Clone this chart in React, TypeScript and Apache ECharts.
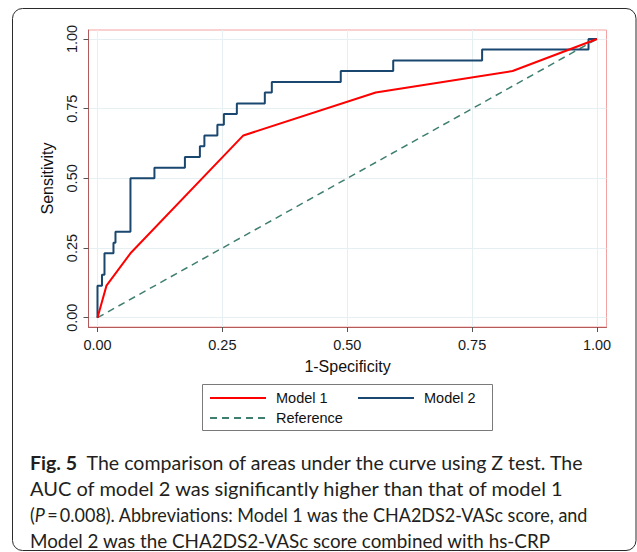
import React, { useEffect, useRef } from "react";
import * as echarts from "echarts";

const xTicks = [0, 0.25, 0.5, 0.75, 1];
const yTicks = [0, 0.25, 0.5, 0.75, 1];

const model1Fpr = [0, 0.018, 0.066, 0.292, 0.557, 0.831, 1];
const model1Tpr = [0, 0.115, 0.231, 0.654, 0.808, 0.885, 1];

const model2Fpr = [0, 0, 0.009, 0.014, 0.032, 0.036, 0.066, 0.114, 0.175, 0.205, 0.214, 0.24, 0.253, 0.279, 0.335, 0.349, 0.487, 0.592, 0.77, 0.983, 1];
const model2Tpr = [0, 0.115, 0.154, 0.231, 0.269, 0.308, 0.5, 0.538, 0.577, 0.615, 0.654, 0.692, 0.731, 0.769, 0.808, 0.846, 0.885, 0.923, 0.962, 1, 1];

const refFpr = [0, 1];
const refTpr = [0, 1];

const seriesNames = ["Model 1", "Model 2", "Reference"];
const xTitle = "1-Specificity";
const yTitle = "Sensitivity";

const captionLines = [
  "{b|Fig. 5}  The comparison of areas under the curve using Z test. The",
  "AUC of model 2 was significantly higher than that of model 1",
  "({i|P}\u2009=\u20090.008). Abbreviations: Model 1 was the CHA2DS2-VASc score, and",
  "Model 2 was the CHA2DS2-VASc score combined with hs-CRP",
];
const captionScale = [1.03, 1.055, 0.947, 0.992];

const zip = (a: number[], b: number[]) => a.map((v, i) => [v, b[i]]);

export default function App() {
  const ref = useRef<HTMLDivElement>(null);
  useEffect(() => {
    document.body.style.margin = "0";
    const chart = echarts.init(ref.current!, null, { renderer: "svg" });
    const axisFont = { fontFamily: "Liberation Sans", fontSize: 14.5, color: "#1a1a1a" };
    const legendCommon = {
      padding: 0,
      itemWidth: 56,
      itemHeight: 14,
      selectedMode: false,
      itemStyle: { opacity: 0 },
      textStyle: { fontFamily: "Liberation Sans", fontSize: 14.5, color: "#111", padding: [0, 0, 0, 5] },
    };
    const capFont = "Lato";
    const capSize = 19;
    chart.setOption({
      animation: false,
      backgroundColor: "#ffffff",
      grid: {
        left: 88.5,
        right: 30.5,
        top: 30,
        bottom: 225,
        show: true,
        borderColor: "#f4a3a3",
        borderWidth: 1,
        backgroundColor: "#ffffff",
      },
      xAxis: {
        type: "value",
        min: -0.018,
        max: 1.019,
        name: xTitle,
        nameLocation: "middle",
        nameGap: 31,
        nameTextStyle: { fontFamily: "Liberation Sans", fontSize: 16, color: "#111" },
        axisLine: { show: true, onZero: false, lineStyle: { color: "#b35a5a", width: 1 } },
        axisTick: { show: true, customValues: xTicks, length: 5, lineStyle: { color: "#555" } },
        axisLabel: { customValues: xTicks, margin: 10, formatter: (v: number) => v.toFixed(2), ...axisFont },
        splitLine: { show: true, lineStyle: { color: "#e6eff1", width: 1 } },
      },
      yAxis: {
        type: "value",
        min: -0.0334,
        max: 1.0323,
        name: yTitle,
        nameLocation: "middle",
        nameGap: 33,
        nameTextStyle: { fontFamily: "Liberation Sans", fontSize: 16, color: "#111" },
        axisLine: { show: true, onZero: false, lineStyle: { color: "#b35a5a", width: 1 } },
        axisTick: { show: true, customValues: yTicks, length: 5, lineStyle: { color: "#555" } },
        axisLabel: { customValues: yTicks, rotate: 90, margin: 9, formatter: (v: number) => v.toFixed(2), ...axisFont },
        splitLine: { show: true, lineStyle: { color: "#e6eff1", width: 1 } },
      },
      legend: [
        { ...legendCommon, data: [seriesNames[0]], left: 209, top: 390.5 },
        { ...legendCommon, data: [seriesNames[1]], left: 357, top: 390.5 },
        { ...legendCommon, data: [seriesNames[2]], left: 209, top: 410.5 },
      ],
      series: [
        {
          name: seriesNames[2],
          type: "line",
          data: zip(refFpr, refTpr),
          symbol: "none",
          z: 2,
          lineStyle: { color: "#3f7f70", width: 1.5, type: [7, 5] },
          itemStyle: { color: "#3f7f70" },
        },
        {
          name: seriesNames[1],
          type: "line",
          step: "end",
          data: zip(model2Fpr, model2Tpr),
          symbol: "none",
          z: 3,
          lineStyle: { color: "#1a476f", width: 2 },
          itemStyle: { color: "#1a476f" },
        },
        {
          name: seriesNames[0],
          type: "line",
          data: zip(model1Fpr, model1Tpr),
          symbol: "none",
          z: 4,
          lineStyle: { color: "#ff0000", width: 2 },
          itemStyle: { color: "#ff0000" },
        },
      ],
      graphic: [
        {
          type: "rect",
          z: -10,
          shape: { x: 12.5, y: 8.5, width: 623.5, height: 542, r: 10 },
          style: { fill: "none", stroke: "#2a2a2a", lineWidth: 1 },
          silent: true,
        },
        {
          type: "rect",
          z: -5,
          shape: { x: 202.5, y: 384.5, width: 290, height: 46 },
          style: { fill: "#ffffff", stroke: "#7a7a7a", lineWidth: 1 },
          silent: true,
        },
        ...captionLines.map((line, i) => ({
          type: "text",
          x: 30,
          y: 462.5 + i * 26,
          scaleX: captionScale[i],
          style: {
            text: line,
            fill: "#231f20",
            fontFamily: capFont,
            fontSize: capSize,
            verticalAlign: "middle",
            rich: {
              b: { fontFamily: capFont, fontSize: capSize, fontWeight: "bold", fill: "#231f20" },
              i: { fontFamily: capFont, fontSize: capSize, fontStyle: "italic", fill: "#231f20" },
            },
          },
        })),
      ],
    });
    return () => chart.dispose();
  }, []);
  return <div ref={ref} style={{ width: 637, height: 552 }} />;
}
